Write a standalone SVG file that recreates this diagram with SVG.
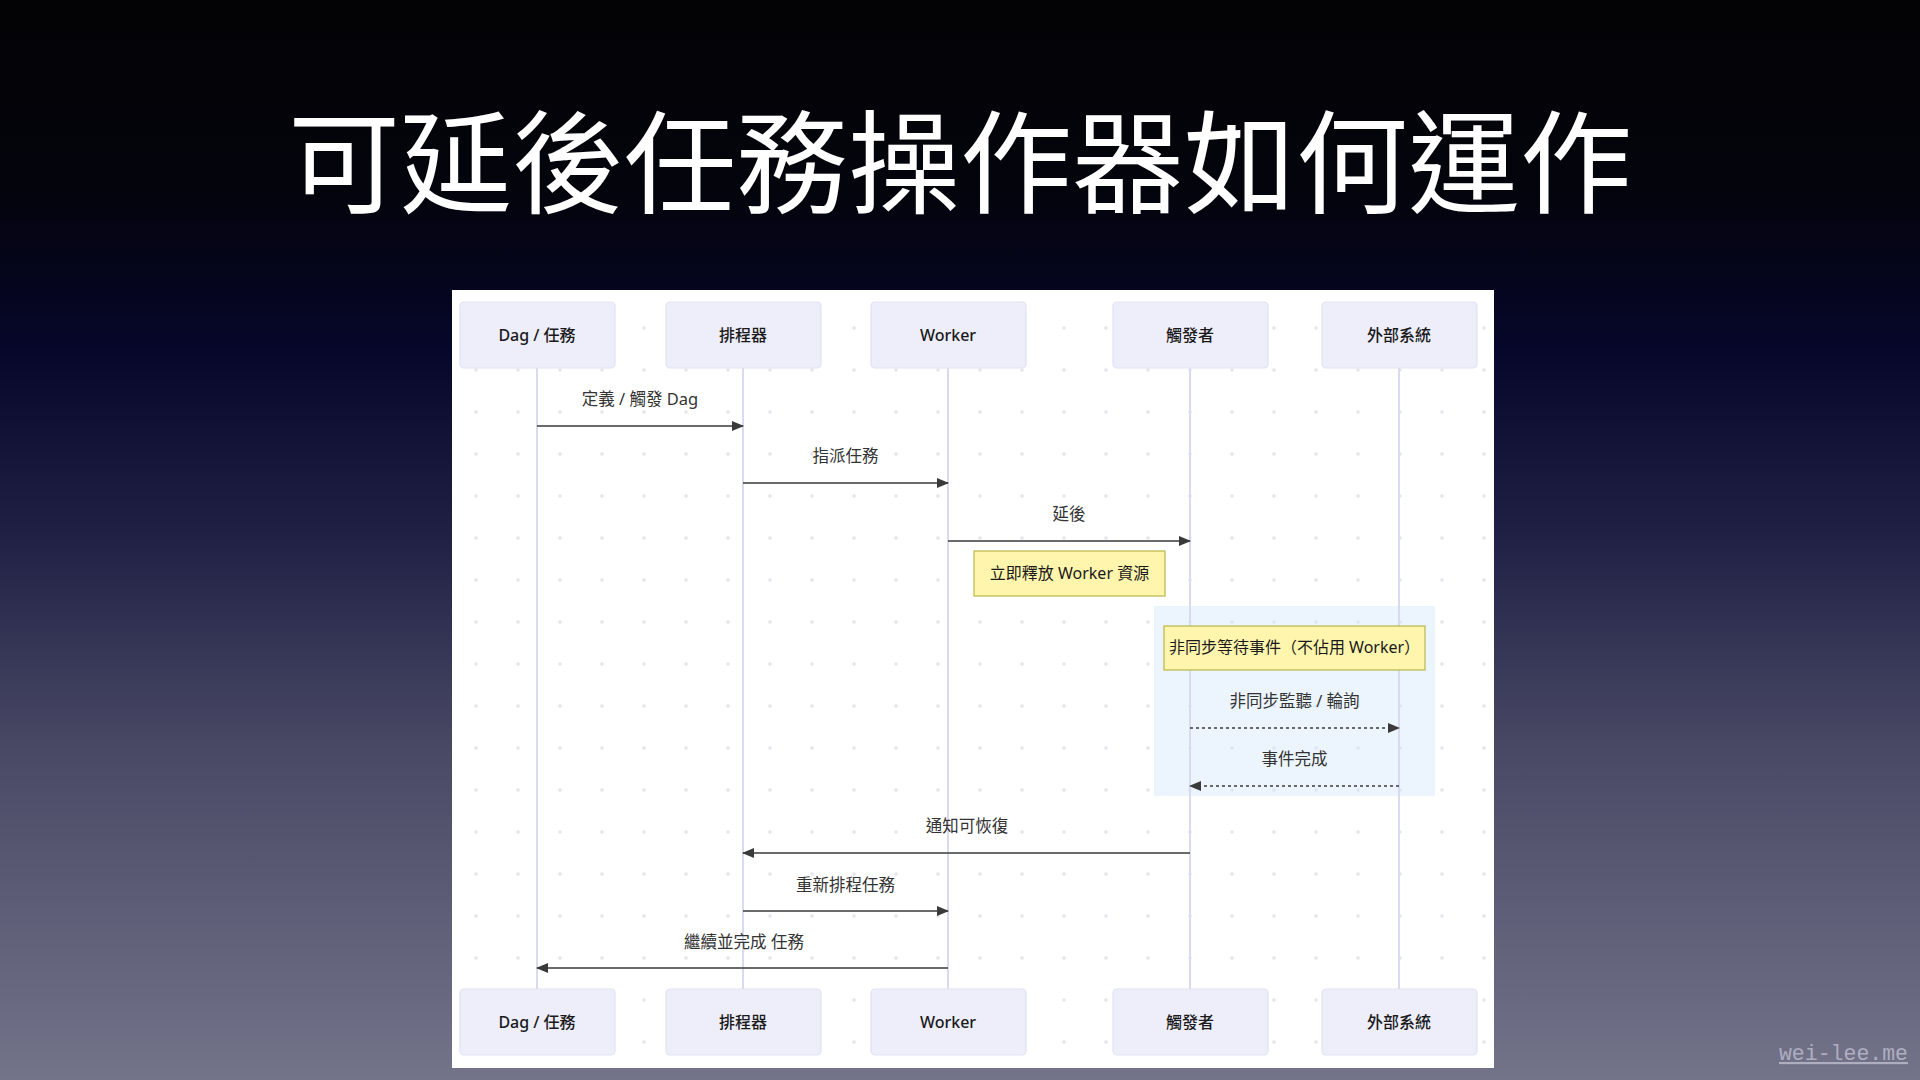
<svg xmlns="http://www.w3.org/2000/svg" width="1920" height="1080" viewBox="0 0 1920 1080">
  <style>
    .title { font-family: "Noto Sans CJK TC", "Noto Sans CJK SC", sans-serif; font-size: 112px; fill: #ffffff; text-anchor: middle; }
    .actor rect { fill: #eeeefb; stroke: #e1e1f3; stroke-width: 1.2; }
    .actor text { font-family: "Noto Sans", "Noto Sans CJK TC", sans-serif; font-size: 16px; font-weight: 500; fill: #1a1a1a; text-anchor: middle; }
    .lifeline { stroke: #d9d9f0; stroke-width: 2; }
    .msg { stroke: #3a3a3a; stroke-width: 1.6; fill: none; }
    .dash { stroke-dasharray: 3 3; }
    .lbl { font-family: "Noto Sans", "Noto Sans CJK TC", sans-serif; font-size: 16.5px; fill: #333333; text-anchor: middle; }
    .note rect { fill: #fff5ad; stroke: #b8b84a; stroke-width: 1.2; }
    .note text { font-family: "Noto Sans", "Noto Sans CJK TC", sans-serif; font-size: 16px; fill: #1a1a1a; text-anchor: middle; }
    .wm { font-family: "Liberation Mono", "DejaVu Sans Mono", monospace; font-size: 21.5px; fill: #aeaec0; text-anchor: end; text-decoration: underline; }
  </style>
  <defs>
    <linearGradient id="bg" x1="0" y1="0" x2="0" y2="1">
      <stop offset="0" stop-color="#030305"/>
      <stop offset="0.18" stop-color="#04040d"/>
      <stop offset="0.32" stop-color="#06062a"/>
      <stop offset="0.5" stop-color="#212146"/>
      <stop offset="0.7" stop-color="#4a4a66"/>
      <stop offset="1" stop-color="#73738a"/>
    </linearGradient>
    <pattern id="dots" patternUnits="userSpaceOnUse" x="455" y="307" width="42" height="42">
      <circle cx="21" cy="21" r="1.8" fill="#e4e4ec"/>
    </pattern>
    <marker id="ah" markerUnits="userSpaceOnUse" markerWidth="12" markerHeight="10" refX="11" refY="5" orient="auto">
      <path d="M0,0 L12,5 L0,10 Z" fill="#3a3a3a"/>
    </marker>
  </defs>

  <rect width="1920" height="1080" fill="url(#bg)"/>
  <text class="title" x="960" y="205">可延後任務操作器如何運作</text>

  <g id="panel">
    <rect x="452" y="290" width="1042" height="778" fill="#ffffff"/>
    <rect x="452" y="290" width="1042" height="778" fill="url(#dots)"/>
    <rect x="1154" y="606" width="281" height="190" fill="#cfe5fb" fill-opacity="0.4"/>
  </g>

  <g id="lifelines">
    <line class="lifeline" x1="537" y1="368" x2="537" y2="989"/>
    <line class="lifeline" x1="743" y1="368" x2="743" y2="989"/>
    <line class="lifeline" x1="948" y1="368" x2="948" y2="989"/>
    <line class="lifeline" x1="1190" y1="368" x2="1190" y2="989"/>
    <line class="lifeline" x1="1399" y1="368" x2="1399" y2="989"/>
  </g>

  <g id="actor-dag" class="actor">
    <rect x="460" y="302" width="155" height="66" rx="4"/>
    <text x="537" y="341">Dag / 任務</text>
    <rect x="460" y="989" width="155" height="66" rx="4"/>
    <text x="537" y="1028">Dag / 任務</text>
  </g>
  <g id="actor-scheduler" class="actor">
    <rect x="666" y="302" width="155" height="66" rx="4"/>
    <text x="743" y="341">排程器</text>
    <rect x="666" y="989" width="155" height="66" rx="4"/>
    <text x="743" y="1028">排程器</text>
  </g>
  <g id="actor-worker" class="actor">
    <rect x="871" y="302" width="155" height="66" rx="4"/>
    <text x="948" y="341">Worker</text>
    <rect x="871" y="989" width="155" height="66" rx="4"/>
    <text x="948" y="1028">Worker</text>
  </g>
  <g id="actor-trigger" class="actor">
    <rect x="1113" y="302" width="155" height="66" rx="4"/>
    <text x="1190" y="341">觸發者</text>
    <rect x="1113" y="989" width="155" height="66" rx="4"/>
    <text x="1190" y="1028">觸發者</text>
  </g>
  <g id="actor-external" class="actor">
    <rect x="1322" y="302" width="155" height="66" rx="4"/>
    <text x="1399" y="341">外部系統</text>
    <rect x="1322" y="989" width="155" height="66" rx="4"/>
    <text x="1399" y="1028">外部系統</text>
  </g>

  <g id="note-release" class="note">
    <rect x="974" y="551" width="191" height="45"/>
    <text x="1069.5" y="579">立即釋放 Worker 資源</text>
  </g>
  <g id="note-async" class="note">
    <rect x="1164" y="626" width="261" height="44"/>
    <text x="1294.5" y="653">非同步等待事件（不佔用 Worker）</text>
  </g>

  <g id="connectors">
    <text class="lbl" x="640" y="405">定義 / 觸發 Dag</text>
    <line class="msg" x1="537" y1="426" x2="743" y2="426" marker-end="url(#ah)"/>

    <text class="lbl" x="845.5" y="462">指派任務</text>
    <line class="msg" x1="743" y1="483" x2="948" y2="483" marker-end="url(#ah)"/>

    <text class="lbl" x="1069" y="520">延後</text>
    <line class="msg" x1="948" y1="541" x2="1190" y2="541" marker-end="url(#ah)"/>

    <text class="lbl" x="1294.5" y="707">非同步監聽 / 輪詢</text>
    <line class="msg dash" x1="1190" y1="728" x2="1399" y2="728" marker-end="url(#ah)"/>

    <text class="lbl" x="1294.5" y="765">事件完成</text>
    <line class="msg dash" x1="1399" y1="786" x2="1190" y2="786" marker-end="url(#ah)"/>

    <text class="lbl" x="967" y="832">通知可恢復</text>
    <line class="msg" x1="1190" y1="853" x2="743" y2="853" marker-end="url(#ah)"/>

    <text class="lbl" x="845.5" y="891">重新排程任務</text>
    <line class="msg" x1="743" y1="911" x2="948" y2="911" marker-end="url(#ah)"/>

    <text class="lbl" x="744" y="948">繼續並完成 任務</text>
    <line class="msg" x1="948" y1="968" x2="537" y2="968" marker-end="url(#ah)"/>
  </g>

  <text class="wm" x="1908" y="1060">wei-lee.me</text>
</svg>
